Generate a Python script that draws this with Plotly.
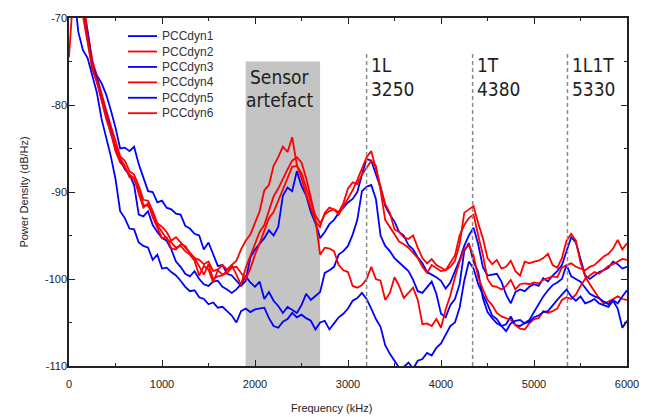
import plotly.graph_objects as go

# ---------------- data ----------------
freq_khz = list(range(0, 6001, 50))

series_names = ["PCCdyn1", "PCCdyn2", "PCCdyn3", "PCCdyn4", "PCCdyn5", "PCCdyn6"]

pccdyn1 = [
    -62.0, -64.0, -66.0, -68.5, -71.5, -75.2, -76.6, -77.5, -78.8, -80.6,
    -82.6, -85.0, -84.9, -85.3, -84.8, -86.8, -88.3, -89.9, -90.0, -91.2,
    -91.0, -91.8, -92.0, -92.5, -92.6, -93.9, -94.2, -94.8, -95.0, -96.6,
    -95.8, -97.2, -98.5, -98.4, -99.4, -99.6, -100.2, -100.8, -100.2, -97.5,
    -96.6, -96.0, -95.3, -94.4, -95.0, -94.0, -90.4, -89.5, -89.9, -87.6,
    -89.3, -90.4, -92.3, -93.6, -95.3, -94.6, -93.7, -93.2, -92.4, -91.8,
    -91.2, -90.8, -90.0, -88.0, -86.2, -86.4, -87.9, -89.5, -91.6, -92.6,
    -93.4, -94.6, -95.0, -96.1, -96.6, -97.5, -98.2, -99.2, -99.5, -99.8,
    -100.2, -101.1, -100.4, -99.2, -97.8, -96.2, -95.0, -94.1, -96.0, -98.6,
    -99.6, -99.5, -99.4, -100.3, -101.8, -102.8, -101.5, -101.2, -101.4, -100.9,
    -100.6, -100.8, -99.9, -100.3, -99.6, -99.1, -98.4, -96.8, -95.2, -95.8,
    -97.8, -99.6, -100.0, -99.6, -99.2, -99.0, -98.7, -98.0, -98.3, -98.8,
    -98.6,
]

pccdyn2 = [
    -74.5, -66.5, -63.5, -67.8, -71.6, -74.8, -76.8, -78.6, -80.6, -82.4,
    -84.2, -85.9, -86.4, -87.6, -88.0, -89.3, -90.9, -91.0, -92.2, -93.6,
    -94.0, -94.6, -95.6, -95.2, -95.8, -96.4, -96.9, -97.6, -97.8, -98.3,
    -98.0, -99.1, -98.9, -98.4, -98.9, -98.4, -97.9, -96.6, -95.6, -94.9,
    -93.6, -92.2, -89.8, -89.2, -87.0, -86.0, -84.8, -85.4, -83.7, -86.9,
    -88.4, -90.3, -91.8, -93.4, -94.0, -92.4, -91.8, -92.0, -92.6, -91.7,
    -90.7, -89.8, -88.6, -87.4, -86.0, -85.3, -87.3, -89.6, -91.4, -92.4,
    -94.3, -94.6, -95.2, -95.4, -95.0, -96.4, -97.6, -98.2, -97.7, -98.4,
    -98.7, -99.0, -98.6, -97.9, -96.0, -92.4, -92.0, -91.6, -93.6, -95.3,
    -97.6, -98.3, -97.8, -98.8, -98.6, -97.9, -99.1, -99.6, -98.0, -98.2,
    -98.0, -97.9, -97.6, -97.1, -98.4, -98.7, -97.6, -95.6, -94.8, -95.6,
    -98.1, -99.7, -100.6, -101.4, -102.2, -102.8, -102.6, -102.3, -102.0, -102.3,
    -102.4,
]

pccdyn3 = [
    -61.0, -64.0, -67.0, -69.5, -71.8, -75.4, -76.9, -79.3, -81.0, -83.0,
    -85.0, -86.2, -87.4, -88.0, -89.2, -92.6, -92.8, -92.2, -93.8, -94.6,
    -95.3, -95.6, -96.6, -98.0, -98.6, -99.4, -99.7, -99.1, -100.0, -100.6,
    -100.8, -100.3, -100.2, -100.9, -101.2, -101.6, -101.2, -100.6, -99.7, -100.4,
    -100.9, -100.3, -102.3, -101.5, -102.5, -103.1, -103.9, -103.2, -103.6, -103.9,
    -103.0, -101.7, -102.4, -102.0, -101.5, -99.3, -99.0, -98.6, -97.2, -96.8,
    -96.2, -94.9, -93.2, -89.9, -89.4, -89.2, -90.8, -95.0, -96.2, -96.8,
    -97.6, -98.1, -98.6, -99.1, -100.1, -101.4, -101.6, -100.9, -100.3, -101.7,
    -104.0, -104.4, -103.0, -102.3, -100.6, -96.8, -95.9, -98.0, -99.2, -102.2,
    -103.8, -104.5, -105.1, -105.4, -105.2, -104.3, -105.3, -105.4, -105.0, -104.7,
    -103.8, -102.9, -102.0, -101.3, -100.7, -100.4, -100.0, -98.4, -99.7, -100.0,
    -100.3, -101.0, -101.7, -102.0, -102.2, -102.6, -102.9, -102.4, -102.8, -102.0,
    -101.3,
]

pccdyn4 = [
    -60.5, -63.5, -66.8, -69.6, -72.9, -75.9, -77.3, -79.6, -81.6, -83.2,
    -85.3, -86.6, -87.2, -88.0, -88.4, -90.2, -91.8, -91.3, -92.9, -94.1,
    -95.3, -95.2, -96.5, -96.6, -96.0, -96.2, -97.0, -97.6, -98.6, -99.5,
    -98.3, -100.0, -99.7, -99.6, -99.0, -98.4, -99.5, -100.7, -98.7, -97.4,
    -96.0, -94.6, -93.8, -92.0, -90.5, -89.6, -88.4, -87.4, -86.4, -86.0,
    -86.6, -88.4, -90.6, -93.1, -97.2, -96.4, -96.5, -96.8, -98.4, -99.0,
    -99.2, -100.8, -101.0, -100.7, -100.0, -98.6, -100.0, -100.2, -102.4, -101.6,
    -99.8, -100.8, -102.2, -101.6, -101.0, -102.4, -105.2, -105.1, -105.4, -104.6,
    -105.6, -103.5, -101.9, -99.8, -98.0, -96.6, -96.1, -97.3, -99.8, -101.2,
    -102.4, -103.0, -103.9, -104.3, -104.5, -104.7, -105.3, -105.7, -105.8, -105.1,
    -104.6, -104.5, -103.7, -103.9, -103.7, -103.4, -102.4, -102.1, -102.3, -101.8,
    -100.8, -100.0, -99.6, -99.2, -99.4, -98.9, -98.5, -98.3, -98.0, -97.7,
    -97.8,
]

pccdyn5 = [
    -60.0, -66.5, -71.6, -73.7, -74.6, -76.6, -78.6, -81.6, -83.6, -85.9,
    -88.5, -92.2, -93.0, -94.2, -94.3, -95.8, -96.2, -96.4, -97.8, -97.2,
    -98.8, -98.7, -99.2, -99.6, -100.2, -100.9, -101.4, -101.3, -102.1, -102.3,
    -102.9, -102.7, -103.3, -103.2, -103.7, -104.2, -105.0, -103.7, -103.4, -103.8,
    -103.5, -103.4, -103.3, -104.5, -105.4, -105.6, -104.9, -104.6, -103.9, -104.4,
    -104.1, -104.5, -104.8, -105.8, -105.0, -104.8, -105.8, -105.1, -104.4, -104.0,
    -103.4, -102.5, -102.2, -101.6, -102.3, -103.4, -104.6, -105.5, -107.6, -108.6,
    -109.4, -110.2, -110.1, -109.6, -110.3, -109.4, -109.2, -108.5, -108.8, -107.9,
    -107.4, -106.4, -105.4, -105.0, -103.3, -100.2, -98.0, -98.8, -100.6, -101.8,
    -102.9, -104.2, -104.6, -105.4, -106.0, -105.1, -104.8, -104.7, -105.1, -104.9,
    -104.4, -104.2, -103.8, -103.7, -103.0, -102.4, -101.8, -101.2, -102.0, -102.5,
    -102.0, -102.8, -102.6, -102.3, -102.8, -103.0, -103.2, -102.5, -103.4, -105.6,
    -104.8,
]

pccdyn6 = [
    -61.0, -64.0, -66.5, -69.2, -72.4, -75.6, -77.4, -79.2, -81.2, -83.3,
    -84.8, -86.1, -87.0, -88.3, -88.6, -89.6, -91.5, -91.6, -92.4, -93.8,
    -94.6, -95.4, -95.8, -96.4, -96.2, -96.8, -97.2, -97.9, -99.6, -98.5,
    -98.9, -100.4, -99.0, -99.5, -99.3, -98.7, -98.6, -99.3, -100.0, -98.8,
    -97.2, -95.9, -94.4, -93.0, -92.3, -91.0, -89.8, -88.4, -87.1, -87.0,
    -87.8, -89.5, -91.0, -92.7, -93.6, -92.6, -92.2, -92.0, -92.3, -91.3,
    -89.6, -88.9, -89.1, -88.0, -87.2, -86.4, -87.0, -89.8, -93.2, -94.0,
    -94.8, -95.7, -96.0, -96.4, -97.0, -97.6, -98.6, -99.3, -98.4, -98.8,
    -99.1, -99.0, -98.2, -97.3, -95.0, -93.8, -93.0, -92.6, -95.0, -97.2,
    -100.0, -100.8, -100.9, -101.2, -100.8, -100.1, -101.2, -100.6, -100.5, -100.6,
    -100.4, -100.5, -100.1, -99.9, -99.7, -99.8, -98.7, -98.4, -98.2, -98.6,
    -98.8, -99.0, -98.6, -98.4, -97.9, -97.4, -97.1, -96.5, -95.5, -96.6,
    -95.9,
]

series_values = [pccdyn1, pccdyn2, pccdyn3, pccdyn4, pccdyn5, pccdyn6]

x_ticks = [0, 1000, 2000, 3000, 4000, 5000, 6000]
y_ticks = [-110, -100, -90, -80, -70]

band_label = ["Sensor", "artefact"]
band_khz = [1900, 2700]
band_top_db = -75

mode_names = ["1L", "1T", "1L1T"]
mode_values = [3250, 4380, 5330]
mode_marker_khz = [3200, 4340, 5360]

x_title = "Frequency (kHz)"
y_title = "Power Density (dB/Hz)"

# ---------------- styling ----------------
BLUE = "rgb(0,0,255)"
RED = "rgb(255,0,0)"
colors = [BLUE, RED, BLUE, RED, BLUE, RED]
AXIS = "#222222"
TXT = "#1e1e1e"
NARROW = "DejaVu Sans Condensed, Liberation Sans Narrow, Arial Narrow, sans-serif"
SANS = "Liberation Sans, Arial, Helvetica, sans-serif"
BIG = 19

fig = go.Figure()
for name, vals, col in zip(series_names, series_values, colors):
    fig.add_trace(go.Scatter(x=freq_khz, y=vals, mode="lines", name=name,
                             line=dict(color=col, width=1.8), showlegend=False))

# sensor artefact band
fig.add_shape(type="rect", xref="x", yref="y", x0=band_khz[0], x1=band_khz[1],
              y0=-110, y1=band_top_db, fillcolor="#c4c4c4", line=dict(width=0),
              layer="below")
band_mid = (band_khz[0] + band_khz[1]) / 2 - 35
fig.add_annotation(x=band_mid, y=-76.8, xref="x", yref="y", text=band_label[0],
                   showarrow=False, font=dict(family=NARROW, size=BIG, color=TXT),
                   xanchor="center", yanchor="middle")
fig.add_annotation(x=band_mid, y=-79.4, xref="x", yref="y", text=band_label[1],
                   showarrow=False, font=dict(family=NARROW, size=BIG, color=TXT),
                   xanchor="center", yanchor="middle")

# mode markers
for nm, val, mx in zip(mode_names, mode_values, mode_marker_khz):
    fig.add_shape(type="line", xref="x", yref="y", x0=mx, x1=mx, y0=-110, y1=-74,
                  line=dict(color="#8a8a8a", width=1.5, dash="4px,3px"), layer="above")
    fig.add_annotation(x=mx + 25, y=-75.4, xref="x", yref="y", text=nm,
                       showarrow=False, font=dict(family=NARROW, size=BIG, color=TXT),
                       xanchor="left", yanchor="middle")
    fig.add_annotation(x=mx + 25, y=-78.2, xref="x", yref="y", text=str(val),
                       showarrow=False, font=dict(family=NARROW, size=BIG, color=TXT),
                       xanchor="left", yanchor="middle")

# manual legend (compact spacing like the original)
leg_x0, leg_x1, leg_tx = 0.1057, 0.1577, 0.1631
leg_y0, leg_dy = 0.948, 0.0443
for k, (name, col) in enumerate(zip(series_names, colors)):
    yy = leg_y0 - k * leg_dy
    fig.add_shape(type="line", xref="paper", yref="paper", x0=leg_x0, x1=leg_x1,
                  y0=yy, y1=yy, line=dict(color=col, width=1.8))
    fig.add_annotation(x=leg_tx, y=yy, xref="paper", yref="paper", text=name,
                       showarrow=False, xanchor="left", yanchor="middle",
                       font=dict(family=SANS, size=12, color="#333333"))

# x-axis title (slightly left of centre, as in the original)
fig.add_annotation(x=0.4713, y=-0.1207, xref="paper", yref="paper", text=x_title,
                   showarrow=False, xanchor="center", yanchor="middle",
                   font=dict(family=SANS, size=11, color=AXIS))

axis_common = dict(showline=True, linecolor=AXIS, linewidth=1.5, mirror="allticks",
                   ticks="inside", ticklen=6, tickwidth=1.2, tickcolor=AXIS,
                   showgrid=False, zeroline=False,
                   tickfont=dict(family=SANS, size=11, color=AXIS))

fig.update_xaxes(range=[0, 6000], tickvals=x_ticks,
                 ticktext=[str(v) for v in x_ticks], ticklabelstandoff=7,
                 minor=dict(dtick=500, tick0=0, ticks="inside", ticklen=3,
                            tickcolor=AXIS, tickwidth=1.2, showgrid=False),
                 **axis_common)
fig.update_yaxes(range=[-110, -70], tickvals=y_ticks,
                 ticktext=[str(v) for v in y_ticks], ticklabelstandoff=-2,
                 minor=dict(dtick=5, tick0=-110, ticks="inside", ticklen=3,
                            tickcolor=AXIS, tickwidth=1.2, showgrid=False),
                 title=dict(text=y_title, standoff=14,
                            font=dict(family=SANS, size=11, color=AXIS)),
                 **axis_common)

# page body has an 8px margin: figure is shrunk so the plot area lands where the original is
fig.update_layout(width=653, height=409,
                  margin=dict(l=61, r=34, t=10, b=51, autoexpand=False),
                  paper_bgcolor="white", plot_bgcolor="white",
                  showlegend=False, font=dict(family=SANS, size=11, color=AXIS))

fig.write_html("out.html")
